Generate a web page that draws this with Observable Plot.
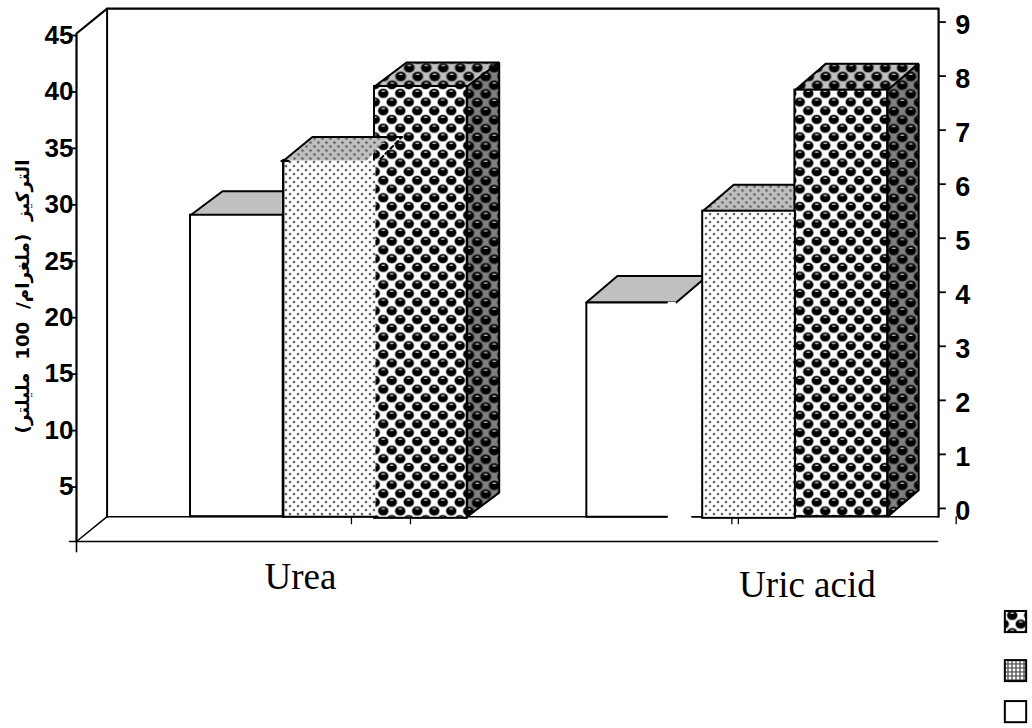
<!DOCTYPE html>
<html><head><meta charset="utf-8">
<script src="https://cdn.jsdelivr.net/npm/d3@7"></script>
<script src="https://cdn.jsdelivr.net/npm/@observablehq/plot@0.6"></script>
<style>html,body{margin:0;padding:0;background:#fff;overflow:hidden}</style>
</head><body><div id="chart"></div>
<script>
// Data
const categories = ["Urea", "Uric acid"];
const ureaValues = [28.9, 33.7, 40.3];      // left axis
const uricValues = [3.81, 5.5, 7.74];       // right axis
const leftTicks = [5, 10, 15, 20, 25, 30, 35, 40, 45];
const rightTicks = [0, 1, 2, 3, 4, 5, 6, 7, 8, 9];
const yLabel = "\u202Bالتركيز  (ملغرام/  100  مليلتر)\u202C";
const minorTicks = [2.966, 3.603, 7.07, 7.14, 9.49];

// Layout in chart units: x = bar widths, y = left-axis units
const wall = {dx: 0.33, dy: 2.2, right: 9.3, top: 45};
const starts = [[1.23, 2.23, 3.215], [5.5, 6.755, 7.75]];
const depths = [{dx: 0.345, dy: 2.13}, {dx: 0.335, dy: 2.35}];
const fromRight = r => 2.93 + 4.787 * r;
const base = wall.dy;
const W = 2;

const ink = "#000";
const NS = "http://www.w3.org/2000/svg";
function defs() {
  const d = document.createElementNS(NS, "defs");
  const dots = (id, bg) => `<pattern id="${id}" patternUnits="userSpaceOnUse" width="8" height="8">
    <rect width="8" height="8" fill="${bg}"/>
    <circle cx="2" cy="2" r="1.6" fill="#777" opacity=".5"/><circle cx="2" cy="2" r=".85" fill="#111"/>
    <circle cx="6" cy="6" r="1.6" fill="#777" opacity=".5"/><circle cx="6" cy="6" r=".85" fill="#111"/></pattern>`;
  const ball = (cx, cy, ring) => `<ellipse cx="${cx}" cy="${cy}" rx="5.7" ry="5" fill="${ring}"/><ellipse cx="${cx}" cy="${cy}" rx="4.9" ry="4.3" fill="#000"/>
    <ellipse cx="${cx}" cy="${cy - 2.2}" rx="2.2" ry=".8" fill="#ccc"/>`;
  const spheres = (id, bg, ring) => `<pattern id="${id}" patternUnits="userSpaceOnUse" width="17" height="17.4" x="379" y="2">
    <rect width="17" height="17.4" fill="${bg}"/>${ball(4.25, 4.35, ring)}${ball(12.75, 13.05, ring)}
    ${ball(21.25, 4.35, ring)}${ball(-4.25, 13.05, ring)}${ball(4.25, 21.75, ring)}${ball(12.75, -4.35, ring)}</pattern>`;
  d.innerHTML = dots("dotFront", "#fff") + dots("dotTop", "#c0c0c0") +
    `<pattern id="dotLegend" patternUnits="userSpaceOnUse" width="4" height="4">
       <rect width="4" height="4" fill="#666"/><circle cx="2" cy="2" r="1.4" fill="#fff"/></pattern>` +
    spheres("ballFront", "#fff", "#999") + spheres("ballTop", "#c0c0c0", "#555") + spheres("ballSide", "#808080", "#333");
  return d;
}

const xy = {x: d => d[0], y: d => d[1]};
const poly = (pts, fill, strokeWidth = W) =>
  Plot.line([...pts, pts[0]], {...xy, fill, stroke: ink, strokeWidth, strokeLinejoin: "miter"});
const path = (pts, strokeWidth = W, extra = {}) =>
  Plot.line(pts, {...xy, stroke: ink, strokeWidth, ...extra});
const front = (x, top, fill, stroke = ink, b = base) =>
  Plot.rect([top], {x1: x, x2: x + 1, y1: b, y2: d => d, fill, stroke, strokeWidth: W});

function topFace(x, v, fill, dp, w = 1) {
  return poly([[x, v], [x + dp.dx, v + dp.dy], [x + w + dp.dx, v + dp.dy], [x + w, v]], fill);
}
function sideFace(x, v, fill, dp) {
  const r = x + 1;
  return poly([[r, v], [r + dp.dx, v + dp.dy], [r + dp.dx, base + dp.dy], [r, base]], fill);
}

const marks = [defs];

// Walls and floor
marks.push(
  path([[0, 0], [0, wall.top], [wall.dx, wall.top + wall.dy], [wall.right, wall.top + wall.dy], [wall.right, base]], 2.2),
  path([[wall.dx, wall.top + wall.dy], [wall.dx, base]], 2),
  path([[0, 0], [wall.dx, base], [6.37, base]], 1.5),
  path([[6.64, base], [wall.right, base]], 1.5),
  path([[-0.075, 0], [wall.right - 0.01, 0]], 1.6),
  path([[0, 0], [0, -0.9]], 1.6)
);
for (const t of minorTicks) marks.push(path([[t, base], [t, base - 0.62]], 1.3));

// Urea group
{
  const [a, b, c] = starts[0], [v1, v2, v3] = ureaValues, dp = depths[0];
  marks.push(topFace(c, v3, "url(#ballTop)", dp), sideFace(c, v3, "url(#ballSide)", dp), front(c, v3, "url(#ballFront)", ink, base - 0.15));
  marks.push(topFace(a, v1, "#c0c0c0", dp));
  marks.push(Plot.line([[b, v2], [b + dp.dx - 0.03, v2 + dp.dy], [b + 1.13, v2 + dp.dy], [b + 0.9, v2], [b, v2]],
    {...xy, fill: "url(#dotTop)", stroke: "none"}));
  marks.push(path([[b, v2], [b + dp.dx - 0.03, v2 + dp.dy], [b + 1.28, v2 + dp.dy]], W));
  marks.push(path([[b + 1.05, v2 + 0.2], [b + 1.28, v2 + dp.dy]], W, {strokeDasharray: "4 3"}));
  marks.push(front(a, v1, "#fff"), front(b, v2, "url(#dotFront)", "none"));
  marks.push(path([[b, v2 + 0.1], [b, base]], 2.4), path([[b, base], [b + 1, base]], W), path([[b - 0.02, v2], [b + 0.06, v2]], W));
}
// Uric acid group
{
  const [a, b, c] = starts[1], [v1, v2, v3] = uricValues.map(fromRight), dp = depths[1];
  marks.push(topFace(b, v2, "url(#dotTop)", dp));
  marks.push(topFace(c, v3, "url(#ballTop)", dp), sideFace(c, v3, "url(#ballSide)", dp), front(c, v3, "url(#ballFront)"));
  marks.push(topFace(a, v1, "#c0c0c0", dp, 0.97));
  marks.push(Plot.rect([v1], {x1: a, x2: a + 0.97, y1: base, y2: d => d, fill: "#fff"}));
  marks.push(path([[a, base], [a, v1], [a + 0.87, v1]], W));
  marks.push(path([[a, base], [a + 0.87, base]], W));
  marks.push(path([[6.64, base], [b, base]], 1.5));
  marks.push(front(b, v2, "url(#dotFront)", ink, base - 0.15));
}

// Left axis
marks.push(Plot.axisY({
  anchor: "left", ticks: leftTicks, tickSize: 7, tickPadding: -4, strokeWidth: 1.8, label: null, dy: 2,
  fontSize: 26, fontWeight: "bold", fontFamily: "Liberation Sans", color: ink
}));
// Right axis
marks.push(Plot.link(rightTicks, {x1: () => wall.right, x2: () => wall.right + 0.078, y1: fromRight, y2: fromRight, stroke: ink, strokeWidth: 1.8}));
marks.push(Plot.text(rightTicks, {
  x: () => wall.right + 0.18, y: fromRight, text: String, dy: 3, textAnchor: "start",
  fontSize: 27, fontWeight: "bold", fontFamily: "Liberation Sans", fill: ink
}));

// Category labels
const catCenter = [2.416, 7.885], catY = [-3.2, -3.85];
marks.push(Plot.text(categories, {
  x: (_, i) => catCenter[i], y: (_, i) => catY[i], text: d => d,
  fontSize: 37, fontFamily: "Liberation Serif", fill: ink
}));

// Arabic axis title
marks.push(Plot.text([yLabel], {
  x: () => -0.58, y: () => 21.7, text: d => d, rotate: -90,
  fontSize: 18.3, fontWeight: "bold", fontFamily: "DejaVu Sans", fill: ink
}));

// Legend swatches
const swatches = [["url(#ballFront)", -6.2, -8.07], ["url(#dotLegend)", -10.55, -12.41], ["#fff", -14.18, -16.05]];
for (const [fill, y1, y2] of swatches)
  marks.push(Plot.rect([0], {x1: () => 10.02, x2: () => 10.25, y1: () => y1, y2: () => y2, fill, stroke: ink, strokeWidth: 2}));

const chart = Plot.plot({
  width: 1032, height: 728,
  marginLeft: 76, marginRight: 0, marginTop: 33, marginBottom: 187,
  x: {type: "linear", domain: [0, 10.313], axis: null},
  y: {type: "linear", domain: [0, 45]},
  style: {background: "#fff", color: ink, overflow: "visible"},
  marks
});
document.getElementById("chart").appendChild(chart);
</script></body></html>
